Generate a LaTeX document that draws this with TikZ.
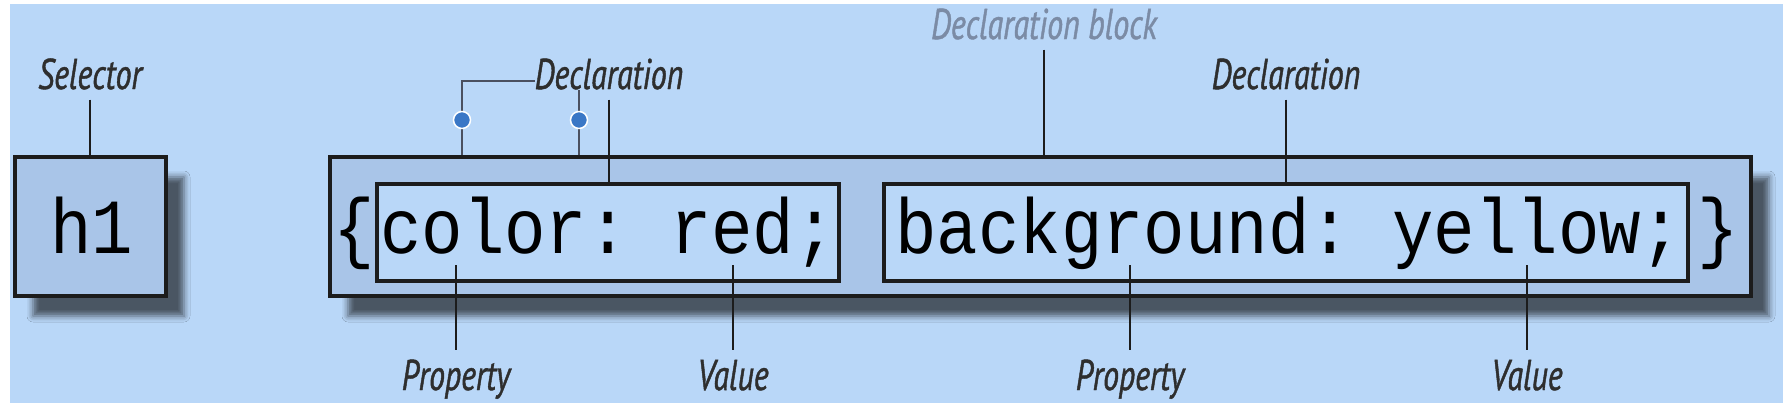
\documentclass[tikz,border=0pt]{standalone}
\usepackage{fontspec}
\newfontfamily\codefont{Liberation Mono}[FakeStretch=0.885]
\newfontfamily\labfont{PT Sans}[FakeStretch=0.74,FakeBold=1]
\usetikzlibrary{shadows.blur,calc}
\definecolor{bgblue}{HTML}{B9D7F8}
\definecolor{boxblue}{HTML}{A9C5E8}
\definecolor{ink}{HTML}{1C1C1C}
\definecolor{labink}{HTML}{2E2E2E}
\definecolor{blockgray}{HTML}{7B8BA5}
\definecolor{dotblue}{HTML}{3A77C6}
\definecolor{thinink}{HTML}{4A5060}
\begin{document}
\begin{tikzpicture}[x=1pt,y=-1pt,
 boxst/.style={draw=ink, line width=4pt, inner sep=0pt},
 shadowed/.style={blur shadow={shadow xshift=18pt, shadow yshift=-20pt, shadow blur radius=6pt, shadow opacity=60}},
 code/.style={font=\codefont\fontsize{78}{78}\selectfont\frenchspacing, inner sep=0pt, anchor=base, text=black},
 lab/.style={font=\labfont\itshape\fontsize{43}{43}\selectfont, text=labink, inner sep=0pt, outer ysep=10pt, anchor=base},
 lead/.style={draw=ink, line width=2.5pt},
 thinline/.style={draw=thinink, line width=1.5pt},
 dot/.style={circle, fill=dotblue, draw=white, line width=1.5pt, minimum size=17pt, inner sep=0pt}]

\useasboundingbox (0,0) rectangle (1790,410);
\fill[white] (0,0) rectangle (1790,410);
\fill[bgblue] (10,4) rectangle (1783,403);

% boxes
\node[boxst, fill=boxblue, shadowed, minimum width=151pt, minimum height=139pt] (h1box) at (90.5,226.5) {};
\node[boxst, fill=boxblue, shadowed, minimum width=1421pt, minimum height=139pt] (block) at (1040.5,226.5) {};
\node[boxst, fill=bgblue, minimum width=462pt, minimum height=97pt] (decl1) at (608,232.5) {};
\node[boxst, fill=bgblue, minimum width=804pt, minimum height=97pt] (decl2) at (1286,232.5) {};

% code text
\node[code] (h1txt) at (92,253) {h1};
\node[code] (lbrace) at (354,253) {\{};
\node[code] (code1) at (608,253) {color: red;};
\node[code] (code2) at (1289,253) {background: yellow;};
\node[code] (rbrace) at (1718,253) {\}};

% labels
\node[lab] (sel) at (90,89) {Selector};
\node[lab] (declL) at (609,89) {Declaration};
\node[lab, text=blockgray] (dblock) at (1044,39) {Declaration block};
\node[lab] (declR) at (1286,89) {Declaration};
\node[lab] (propL) at (456,390) {Property};
\node[lab] (valL) at (733,390) {Value};
\node[lab] (propR) at (1130,390) {Property};
\node[lab] (valR) at (1527,390) {Value};

% free ends of bottom leaders
\coordinate (pL) at (456,265);
\coordinate (vL) at (733,265);
\coordinate (pR) at (1130,265);
\coordinate (vR) at (1527,265);

% leaders
\draw[lead] (sel.south) -- (sel.south |- h1box.north);
\draw[lead] (declL.south) -- (declL.south |- decl1.north);
\draw[lead] (dblock.south) -- (dblock.south |- block.north);
\draw[lead] (declR.south) -- (declR.south |- decl2.north);
\draw[lead] (propL.north) -- (pL);
\draw[lead] (valL.north) -- (vL);
\draw[lead] (propR.north) -- (pR);
\draw[lead] (valR.north) -- (vR);

% bracket with handles
\coordinate (bk1) at (462,81);
\coordinate (bk2) at (579,90);
\draw[thinline] (declL.west |- bk1) -- (bk1) -- (bk1 |- block.north);
\draw[thinline] (bk2) -- (bk2 |- block.north);
\node[dot] (dot1) at (462,120) {};
\node[dot] (dot2) at (579,120) {};
\end{tikzpicture}
\end{document}
